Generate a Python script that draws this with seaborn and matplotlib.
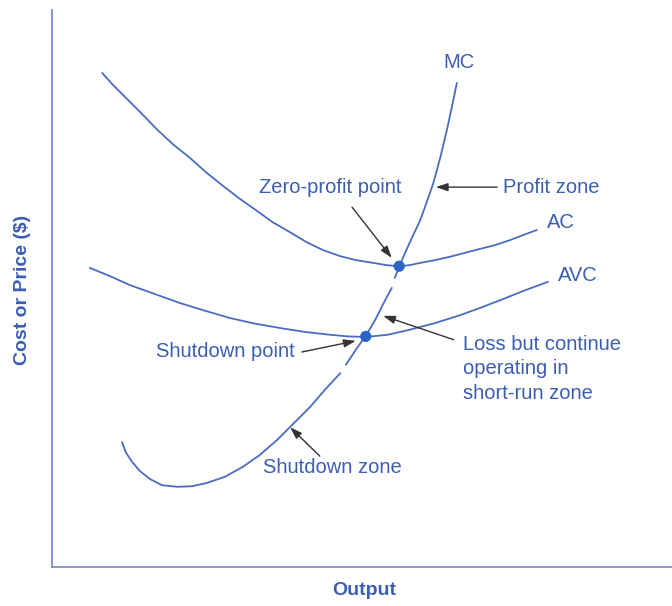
import matplotlib
matplotlib.use("Agg")
import matplotlib.pyplot as plt
import seaborn as sns
import pandas as pd

# curve values (output 0-100, cost 0-100)
ac_q = [8.1, 9.7, 11.5, 14.2, 16.9, 19.5, 22.3, 24.8, 27.6, 30.3, 33.1, 35.6, 38.4, 41.1, 43.7,
        46.5, 49.0, 51.8, 53.9, 56.0, 57.7, 59.4, 61.8, 64.2, 66.6, 69.0, 71.5, 73.9, 76.0, 78.2]
ac_c = [88.7, 86.7, 84.7, 81.7, 78.6, 75.9, 73.4, 70.9, 68.4, 66.1, 63.9, 61.9, 60.1, 58.3, 56.9,
        55.8, 55.1, 54.6, 54.2, 54.0, 54.2, 54.6, 55.1, 55.7, 56.4, 57.1, 57.8, 58.7, 59.6, 60.5]

avc_q = [6.1, 9.4, 12.6, 16.6, 20.6, 24.7, 28.7, 32.7, 36.8, 40.8, 44.8,
         47.7, 50.6, 54.2, 57.7, 61.8, 65.8, 69.0, 72.3, 76.1, 80.0]
avc_c = [53.7, 52.2, 50.6, 49.0, 47.4, 46.0, 44.7, 43.7, 42.9, 42.2, 41.7,
         41.4, 41.3, 41.7, 42.6, 43.8, 45.2, 46.5, 47.9, 49.6, 51.2]

# MC is drawn in three pieces, the picture has small breaks in it
mc_q = [11.3, 11.9, 12.9, 14.2, 15.8, 17.7, 20.2, 22.6, 25.0, 27.9, 30.8, 33.5, 36.3, 38.9, 41.6, 44.0, 46.5,
        47.4, 49.0, 50.6, 52.1, 53.5, 54.8,
        55.3, 56.0, 57.6, 59.4, 60.5, 61.5, 62.6, 63.7, 64.5, 65.3]
mc_c = [22.4, 20.6, 18.9, 17.2, 15.8, 14.7, 14.4, 14.5, 15.1, 16.2, 18.0, 20.1, 22.8, 25.7, 28.7, 31.8, 34.8,
        36.3, 39.0, 41.5, 44.3, 47.4, 50.1,
        51.9, 54.0, 58.0, 62.3, 65.7, 68.9, 73.4, 78.5, 82.6, 86.9]
mc_piece = [1] * 17 + [2] * 6 + [3] * 10

point_names = ["Zero-profit point", "Shutdown point"]
point_q = [56.0, 50.6]
point_c = [54.0, 41.4]

line_col = "#4a6cc2"
text_col = "#3b5db3"
dot_col = "#2b63c6"
arrow_col = "#333333"

sns.set_theme(style="white")
plt.rcParams['font.family'] = ['Liberation Sans', 'DejaVu Sans']

fig = plt.figure(figsize=(6.72, 6.06), dpi=100)
ax = fig.add_axes([52 / 672, 39 / 606, 620 / 672, 557 / 606])

ac = pd.DataFrame({"q": ac_q, "c": ac_c})
avc = pd.DataFrame({"q": avc_q, "c": avc_c})
mc = pd.DataFrame({"q": mc_q, "c": mc_c, "piece": mc_piece})
pts = pd.DataFrame({"name": point_names, "q": point_q, "c": point_c})

kw = dict(sort=False, estimator=None, color=line_col, lw=1.3, solid_joinstyle="round", ax=ax)
sns.lineplot(data=ac, x="q", y="c", **kw)
sns.lineplot(data=avc, x="q", y="c", **kw)
for p, grp in mc.groupby("piece"):
    sns.lineplot(data=grp, x="q", y="c", **kw)
sns.scatterplot(data=pts, x="q", y="c", color=dot_col, s=65, edgecolor="none", zorder=5, ax=ax)

fs = 14.5
ax.text(65.6, 90.5, "MC", color=text_col, fontsize=fs, ha="center", va="center")
ax.text(79.8, 61.8, "AC", color=text_col, fontsize=fs, ha="left", va="center")
ax.text(81.6, 52.4, "AVC", color=text_col, fontsize=fs, ha="left", va="center")
ax.text(44.8, 68.2, "Zero-profit point", color=text_col, fontsize=fs, ha="center", va="center")
ax.text(72.7, 68.2, "Profit zone", color=text_col, fontsize=fs, ha="left", va="center")
ax.text(66.3, 35.6, "Loss but continue\noperating in\nshort-run zone", color=text_col,
        fontsize=fs, ha="left", va="center", linespacing=1.38)
ax.text(39.2, 38.6, "Shutdown point", color=text_col, fontsize=fs, ha="right", va="center")
ax.text(45.3, 17.8, "Shutdown zone", color=text_col, fontsize=fs, ha="center", va="center")

arrows = [
    ((54.8, 55.5), (48.4, 64.6)),
    ((61.9, 68.2), (71.8, 68.2)),
    ((53.4, 45.1), (64.8, 40.8)),
    ((49.0, 40.6), (40.3, 38.6)),
    ((38.4, 25.1), (43.2, 19.9)),
]
for head, tail in arrows:
    ax.annotate("", xy=head, xytext=tail,
                arrowprops=dict(arrowstyle="-|>,head_length=0.6,head_width=0.2",
                                color=arrow_col, lw=1.0, mutation_scale=12,
                                shrinkA=0, shrinkB=0))

ax.set_xlim(0, 100)
ax.set_ylim(0, 100)
ax.set_xticks([])
ax.set_yticks([])
for side in ["top", "right"]:
    ax.spines[side].set_visible(False)
for side in ["left", "bottom"]:
    ax.spines[side].set_color("#7b8fcc")
    ax.spines[side].set_linewidth(1.3)

ax.set_xlabel("Output", color=text_col, fontsize=14, fontweight="bold", va="center")
ax.xaxis.set_label_coords(0.503, -0.043)
ax.set_ylabel("Cost or Price ($)", color=text_col, fontsize=14, fontweight="bold", va="center")
ax.yaxis.set_label_coords(-0.048, 0.497)

fig.savefig("out.png", dpi=100)
